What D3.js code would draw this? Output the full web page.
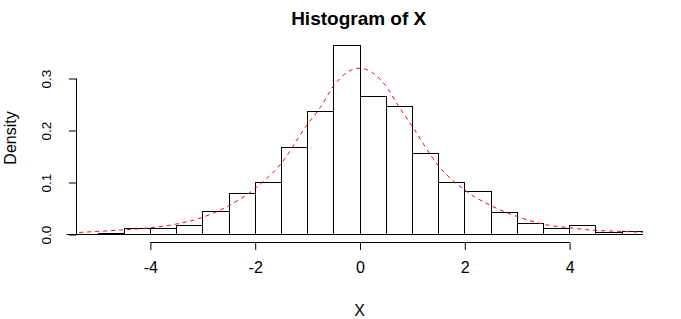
<!DOCTYPE html>
<html>
<head>
<meta charset="utf-8">
<script src="https://cdn.jsdelivr.net/npm/d3@7"></script>
<style>
  html, body { margin: 0; padding: 0; background: #ffffff; }
  svg { display: block; }
  text { font-family: "Liberation Sans", Arial, sans-serif; fill: #000; }
</style>
</head>
<body>
<svg id="chart" width="681" height="319"></svg>
<script>
// ---- data ----
const binStarts = [-5, -4.5, -4, -3.5, -3, -2.5, -2, -1.5, -1, -0.5, 0, 0.5, 1, 1.5, 2, 2.5, 3, 3.5, 4, 4.5, 5];
const binWidth = 0.5;
const densities = [0.002, 0.012, 0.012, 0.018, 0.044, 0.078, 0.100, 0.168, 0.236, 0.364,
                   0.266, 0.246, 0.156, 0.100, 0.082, 0.042, 0.022, 0.012, 0.018, 0.004, 0.006];
const curveX = [-5.35, -5, -4.5, -4, -3.5, -3, -2.5, -2, -1.5, -1, -0.75, -0.5, -0.25, 0,
                0.25, 0.5, 0.75, 1, 1.5, 2, 2.5, 3, 3.5, 4, 4.5, 5, 5.45];
const curveY = [0.003, 0.005, 0.008, 0.012, 0.019, 0.032, 0.054, 0.087, 0.135, 0.210, 0.243, 0.284, 0.310, 0.319,
                0.310, 0.285, 0.245, 0.208, 0.132, 0.085, 0.055, 0.034, 0.019, 0.012, 0.007, 0.005, 0.003];
const xTicks = [-4, -2, 0, 2, 4];
const yTicks = [0, 0.1, 0.2, 0.3];
const yTickLabels = ["0.0", "0.1", "0.2", "0.3"];

// ---- scales ----
const svg = d3.select("#chart");
const x = d3.scaleLinear().domain([-5.5, 5.5]).range([71.3, 647.7]);
const y = d3.scaleLinear().domain([0, 0.3]).range([234, 78]);
const plotLeft = 66.5, plotRight = 643, plotTop = 20, plotBottom = 240;
const snap = v => Math.round(v) + 0.5;

svg.append("defs").append("clipPath").attr("id", "plotclip")
  .append("rect").attr("x", plotLeft).attr("y", plotTop)
  .attr("width", plotRight - plotLeft).attr("height", plotBottom - plotTop);

const plot = svg.append("g").attr("clip-path", "url(#plotclip)");

// baseline
plot.append("line")
  .attr("x1", plotLeft).attr("x2", plotRight)
  .attr("y1", snap(y(0))).attr("y2", snap(y(0)))
  .attr("stroke", "#000").attr("stroke-width", 1);

// bars
plot.selectAll("rect.bar").data(binStarts).enter().append("rect")
  .attr("class", "bar")
  .attr("x", d => snap(x(d)))
  .attr("width", d => snap(x(d + binWidth)) - snap(x(d)))
  .attr("y", (d, i) => snap(y(densities[i])))
  .attr("height", (d, i) => snap(y(0)) - snap(y(densities[i])))
  .attr("fill", "none").attr("stroke", "#000").attr("stroke-width", 1);

// density curve
const pts = curveX.map((v, i) => [v, curveY[i]]);
plot.append("path")
  .datum(pts)
  .attr("d", d3.line().x(d => x(d[0])).y(d => y(d[1])).curve(d3.curveMonotoneX))
  .attr("fill", "none").attr("stroke", "#ff0000").attr("stroke-width", 1)
  .attr("stroke-dasharray", "4,4");

// x axis
const xAxis = d3.axisBottom(x).tickValues(xTicks).tickSize(7.5).tickPadding(12)
  .tickFormat(d => d3.format("d")(d).replace("−", "-"));
const gx = svg.append("g").attr("transform", "translate(0.5,242.5)").call(xAxis);
gx.select(".domain").attr("d", `M${x(-4)},0H${x(4)}`).attr("stroke", "#000");
gx.selectAll(".tick line").attr("stroke", "#000");
gx.selectAll(".tick text").attr("font-size", 16).attr("font-family", "Liberation Sans, Arial, sans-serif")
  .attr("fill", "#000");

// y axis
const yAxis = d3.axisLeft(y).tickValues(yTicks).tickSize(7.5)
  .tickFormat((d, i) => yTickLabels[i]);
const gy = svg.append("g").attr("transform", "translate(76.5,0.5)").call(yAxis);
gy.select(".domain").attr("d", `M0,${y(0)}V${y(0.3)}`).attr("stroke", "#000");
gy.selectAll(".tick line").attr("stroke", "#000");
gy.selectAll(".tick text")
  .attr("font-size", 13.5).attr("font-family", "Liberation Sans, Arial, sans-serif").attr("fill", "#000")
  .attr("x", null).attr("dy", null)
  .attr("text-anchor", "middle")
  .attr("transform", "translate(-26,0) rotate(-90)")
  .attr("y", 0);

// titles
svg.append("text").attr("x", 358.7).attr("y", 25).attr("text-anchor", "middle")
  .attr("font-size", 19).attr("font-weight", "bold").text("Histogram of X");
svg.append("text").attr("x", 359.5).attr("y", 316).attr("text-anchor", "middle")
  .attr("font-size", 16).text("X");
svg.append("text").attr("transform", "translate(16,138) rotate(-90)").attr("text-anchor", "middle")
  .attr("font-size", 16).text("Density");
</script>
</body>
</html>
